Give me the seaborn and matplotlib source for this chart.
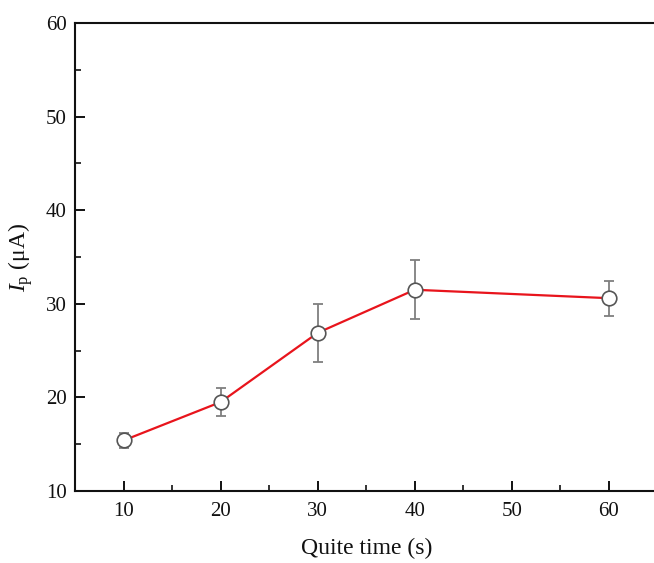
import matplotlib
matplotlib.use("Agg")
import matplotlib.pyplot as plt
import seaborn as sns
import pandas as pd
from matplotlib.ticker import MultipleLocator

quiet_time = [10, 20, 30, 40, 60]
ip_values = [15.4, 19.5, 26.9, 31.5, 30.6]
ip_errors = [0.8, 1.5, 3.1, 3.15, 1.85]

sns.set_theme(style="ticks")
plt.rcParams['font.family'] = ['Liberation Serif', 'DejaVu Serif']
plt.rcParams['mathtext.fontset'] = 'custom'
plt.rcParams['mathtext.rm'] = 'Liberation Serif'
plt.rcParams['mathtext.it'] = 'Liberation Serif:italic'

df = pd.DataFrame({"t": quiet_time, "ip": ip_values, "err": ip_errors})

W, H = 654, 563
fig = plt.figure(figsize=(W / 100, H / 100), dpi=100)
left, right, top, bottom = 75, 657.5, 23, 491
ax = fig.add_axes([left / W, 1 - bottom / H, (right - left) / W, (bottom - top) / H])

ax.errorbar(df["t"], df["ip"], yerr=df["err"], fmt="none", ecolor="#7f7f7f",
            elinewidth=1.3, capsize=3.5, capthick=1.3, zorder=2)
sns.lineplot(data=df, x="t", y="ip", ax=ax, color="#e8141c", linewidth=1.6,
             marker="o", markersize=10.5, markerfacecolor="white",
             markeredgecolor="#555555", markeredgewidth=1.2, zorder=3)

ax.set_xlim(5, 65)
ax.set_ylim(10, 60)
ax.xaxis.set_major_locator(MultipleLocator(10))
ax.xaxis.set_minor_locator(MultipleLocator(5))
ax.yaxis.set_major_locator(MultipleLocator(10))
ax.yaxis.set_minor_locator(MultipleLocator(5))
ax.tick_params(which="major", direction="in", length=7, width=1.4, labelsize=15,
               colors="#111111", pad=8)
ax.tick_params(which="minor", direction="in", length=4, width=1.2, colors="#111111")
ax.tick_params(axis="y", pad=6)

for s in ax.spines.values():
    s.set_linewidth(1.5)
    s.set_color("#111111")

ax.set_xlabel("Quite time (s)", fontsize=17, color="#111111", labelpad=12)
ax.set_ylabel(r"$I_{\mathrm{p}}$ (μA)", fontsize=17, color="#111111", labelpad=8)

fig.savefig("out.png", dpi=100)
